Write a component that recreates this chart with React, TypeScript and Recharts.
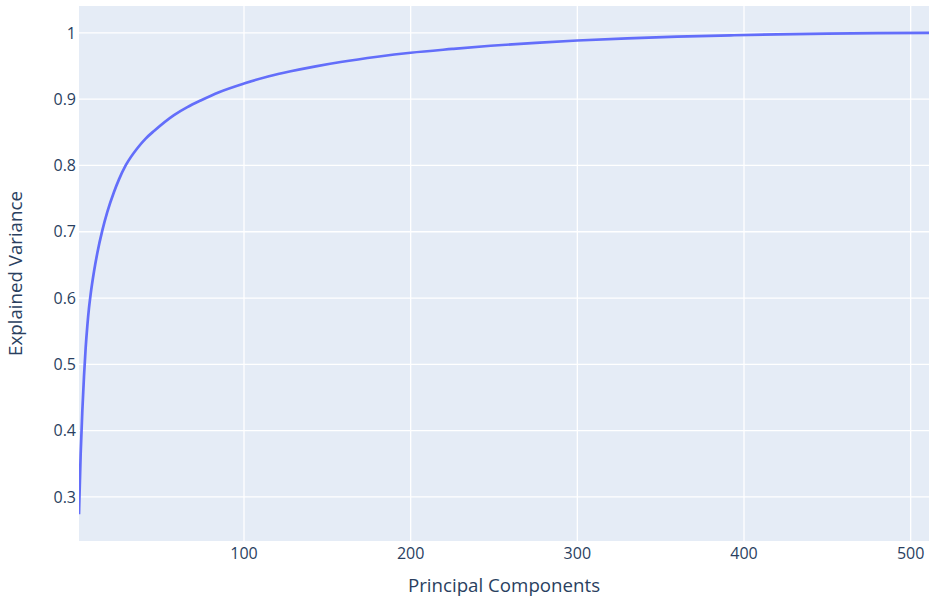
import React from 'react';
import { LineChart, Line, XAxis, YAxis, CartesianGrid } from 'recharts';

const components = [1, 2, 3, 4, 5, 6, 7, 8, 10, 12, 15, 18, 22, 25, 29, 36, 41, 46, 58, 66, 74, 85, 100, 115, 128, 143, 158, 180, 200, 225, 248, 275, 300, 330, 360, 392, 420, 450, 480, 511];
const explainedVariance = [0.274, 0.365, 0.43, 0.482, 0.525, 0.558, 0.585, 0.606, 0.64, 0.668, 0.702, 0.73, 0.76, 0.779, 0.8, 0.826, 0.8405, 0.852, 0.876, 0.888, 0.898, 0.9105, 0.9236, 0.9345, 0.942, 0.9495, 0.956, 0.964, 0.97, 0.9757, 0.9805, 0.985, 0.9885, 0.9918, 0.9943, 0.9963, 0.9977, 0.9989, 0.9996, 1.0];
const xTicks = [100, 200, 300, 400, 500];
const yTicks = [0.3, 0.4, 0.5, 0.6, 0.7, 0.8, 0.9, 1];

const data = components.map((pc, i) => ({ pc, value: explainedVariance[i] }));

const FONT = '"Open Sans", verdana, arial, sans-serif';
const TEXT = '#2a3f5f';

export default function App() {
  return (
    <div style={{ position: 'absolute', left: 0, top: 0, background: '#fff' }}>
      <LineChart width={935} height={602} data={data} margin={{ top: 6, right: 6, bottom: 0, left: 0 }}>
        <CartesianGrid fill="#E5ECF6" stroke="#ffffff" strokeWidth={1.3} horizontalValues={yTicks} verticalValues={xTicks} />
        <XAxis
          dataKey="pc"
          type="number"
          domain={[1, 511]}
          ticks={xTicks}
          allowDataOverflow
          height={61}
          axisLine={false}
          tickLine={false}
          tickSize={0}
          tickMargin={7}
          tick={{ fill: TEXT, fontSize: 16, fontFamily: FONT }}
          label={{ value: 'Principal Components', position: 'insideBottom', offset: 10, fill: TEXT, fontSize: 18.7, fontFamily: FONT }}
        />
        <YAxis
          type="number"
          domain={[0.2335, 1.0405]}
          ticks={yTicks}
          allowDataOverflow
          width={79}
          axisLine={false}
          tickLine={false}
          tickSize={0}
          tickMargin={3}
          tick={{ fill: TEXT, fontSize: 16, fontFamily: FONT }}
          label={{ value: 'Explained Variance', angle: -90, position: 'insideLeft', offset: 15, fill: TEXT, fontSize: 18.7, fontFamily: FONT, style: { textAnchor: 'middle' } }}
        />
        <Line
          type="monotone"
          dataKey="value"
          stroke="#636efa"
          strokeWidth={2.7}
          dot={false}
          activeDot={false}
          isAnimationActive={false}
        />
      </LineChart>
    </div>
  );
}
